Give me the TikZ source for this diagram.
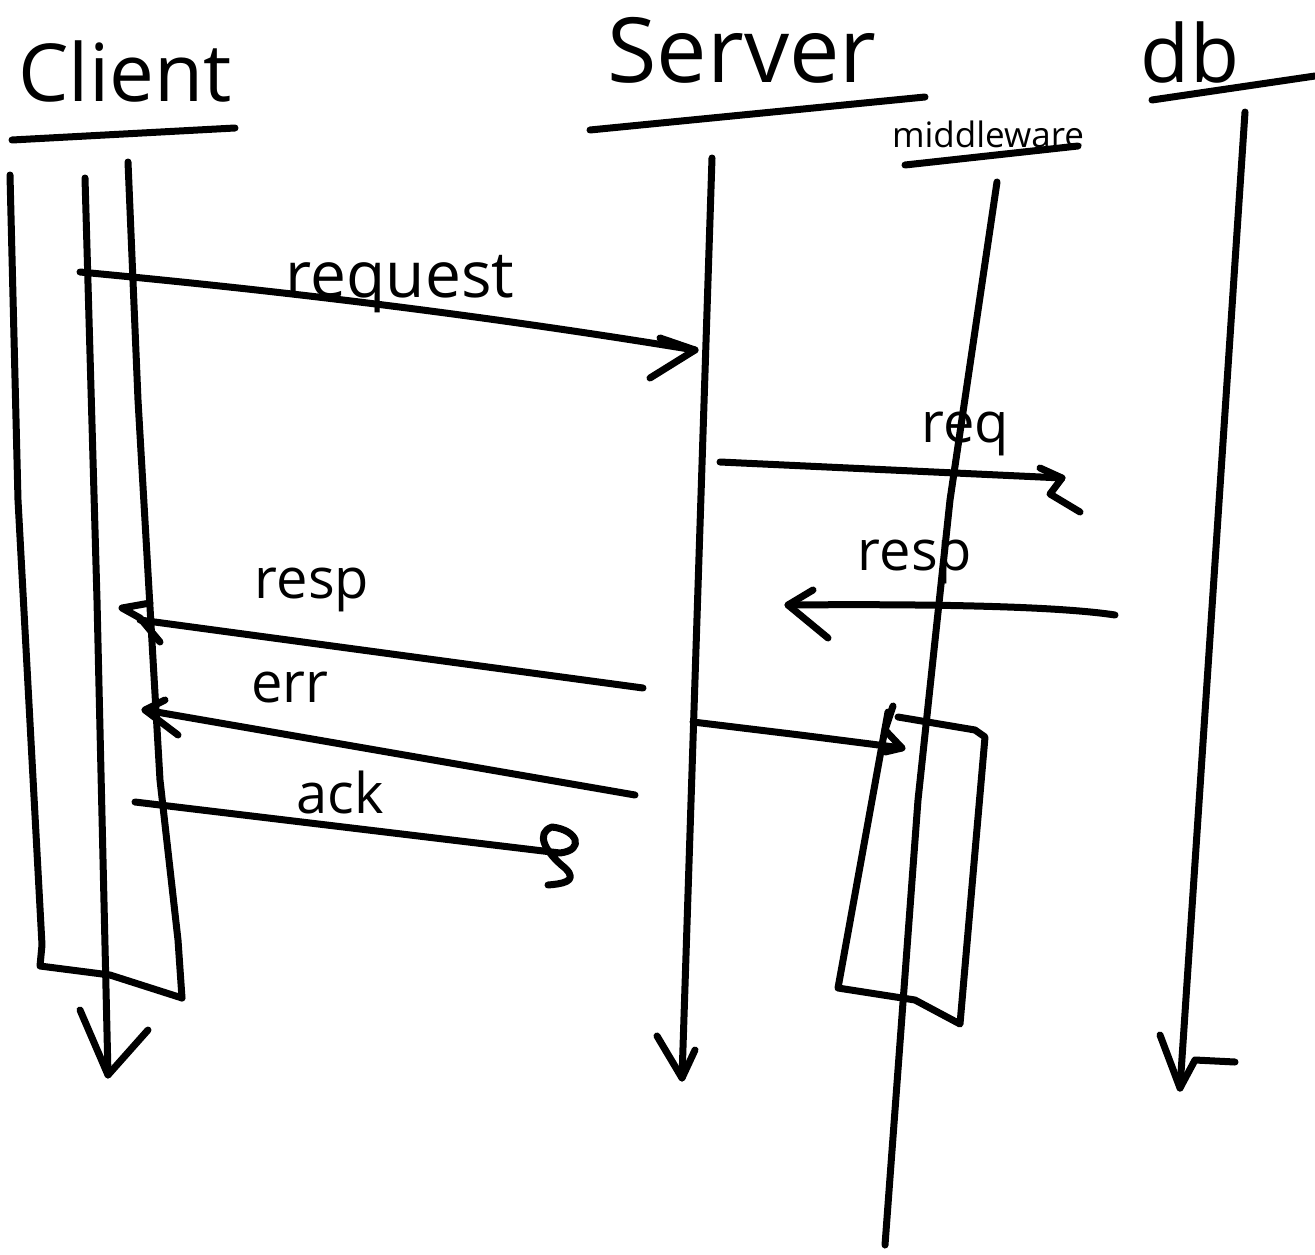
\documentclass[tikz,border=0pt]{standalone}
\usepackage{fontspec}
\setmainfont{Open Sans}
\begin{document}
\begin{tikzpicture}[x=1pt,y=-1pt,
  ink/.style={line width=7pt,line cap=round,line join=round,black},
  big/.style={font=\fontsize{80}{80}\selectfont,inner sep=0pt},
  mid/.style={font=\fontsize{56}{56}\selectfont,inner sep=0pt},
  small/.style={font=\fontsize{35}{35}\selectfont,inner sep=0pt}]
\useasboundingbox (0,0) rectangle (1315,1255);

% ---- headers ----
\node[big] (tClient) at (125,72) {Client};
\node[big,font=\fontsize{90}{90}\selectfont] (tServer) at (742,50) {Server};
\node[big] (tDb) at (1190,52) {db};
\node[small] (tMw) at (988,134) {middleware};

\coordinate (uC1) at (12,140);   \coordinate (uC2) at (235,128);
\coordinate (uS1) at (590,130);  \coordinate (uS2) at (925,97);
\coordinate (uD1) at (1152,100); \coordinate (uD2) at (1315,76);
\coordinate (uM1) at (905,165);  \coordinate (uM2) at (1078,146);
\draw[ink] (uC1) -- (uC2);
\draw[ink] (uS1) -- (uS2);
\draw[ink] (uD1) -- (uD2);
\draw[ink] (uM1) -- (uM2);

% ---- client lifeline with activation ----
\coordinate (cTop) at (85,178);  \coordinate (cEnd) at (108,1075);
\draw[ink] (cTop) -- (97,600) -- (cEnd);
\draw[ink] (80,1010) -- (cEnd) -- (148,1030);
\coordinate (cbTL) at (10,175); \coordinate (cbBL) at (40,966);
\coordinate (cbTR) at (128,162); \coordinate (cbBR) at (182,998);
\draw[ink] (cbTL) -- (18,500) -- (42,945) -- (cbBL) -- (110,975) -- (cbBR);
\draw[ink] (cbTR) -- (138,400) -- (160,780) -- (178,940) -- (cbBR);

% ---- server lifeline ----
\coordinate (sTop) at (712,158); \coordinate (sEnd) at (682,1078);
\draw[ink] (sTop) -- (sEnd);
\draw[ink] (657,1036) -- (sEnd) -- (695,1050);

% ---- middleware lifeline with activation ----
\coordinate (mTop) at (997,182); \coordinate (mEnd) at (885,1245);
\draw[ink] (mTop) -- (950,500) -- (918,800) -- (mEnd);
\coordinate (mbTL) at (898,717); \coordinate (mbTR) at (985,737);
\coordinate (mbBR) at (960,1024); \coordinate (mbBL) at (838,988);
\draw[ink] (mbTL) -- (975,730) -- (mbTR) -- (mbBR) -- (915,1000) -- (mbBL) -- (888,712);

% ---- db lifeline ----
\coordinate (dTop) at (1245,112); \coordinate (dEnd) at (1180,1088);
\draw[ink] (dTop) -- (dEnd);
\draw[ink] (1160,1035) -- (dEnd) -- (1195,1060) -- (1235,1062);

% ---- messages ----
% request
\coordinate (rqA) at (80,272); \coordinate (rqB) at (695,350);
\draw[ink] (rqA) .. controls (250,288) and (450,310) .. (rqB);
\draw[ink] (660,338) -- (rqB) -- (650,378);
\node[mid,font=\fontsize{64}{64}\selectfont] (lRequest) at (400,284) {request};

% req
\coordinate (q2A) at (720,462); \coordinate (q2B) at (1062,478);
\draw[ink] (q2A) -- (q2B);
\draw[ink] (1040,468) -- (q2B) -- (1050,494) -- (1080,512);
\node[mid] (lReq) at (965,434) {req};

% resp db -> server
\coordinate (rdA) at (1115,615); \coordinate (rdB) at (788,605);
\draw[ink] (rdA) .. controls (1050,605) and (900,604) .. (rdB);
\draw[ink] (813,590) -- (rdB) -- (828,638);
\node[mid] (lResp1) at (915,562) {resp};

% resp server -> client
\coordinate (rcA) at (643,688); \coordinate (rcB) at (140,620);
\draw[ink] (rcA) -- (rcB);
\draw[ink] (150,603) -- (122,608) -- (140,618) -- (160,642);
\node[mid] (lResp2) at (312,590) {resp};

% err
\coordinate (erA) at (635,795); \coordinate (erB) at (145,710);
\draw[ink] (erA) -- (erB);
\draw[ink] (165,700) -- (erB) -- (178,735);
\node[mid] (lErr) at (290,688) {err};

% ack (ends in a squiggle)
\coordinate (akA) at (135,802); \coordinate (akB) at (560,853);
\draw[ink] (akA) -- (akB) .. controls (585,850) and (578,830) .. (552,827)
  .. controls (535,833) and (545,852) .. (565,868)
  .. controls (580,882) and (560,884) .. (548,885);
\node[mid] (lAck) at (340,792) {ack};

% server -> middleware activation
\coordinate (smA) at (693,722); \coordinate (smB) at (902,748);
\draw[ink] (smA) -- (800,735) -- (smB);
\draw[ink] (893,706) -- (885,730) -- (smB) -- (885,752);
\end{tikzpicture}
\end{document}
